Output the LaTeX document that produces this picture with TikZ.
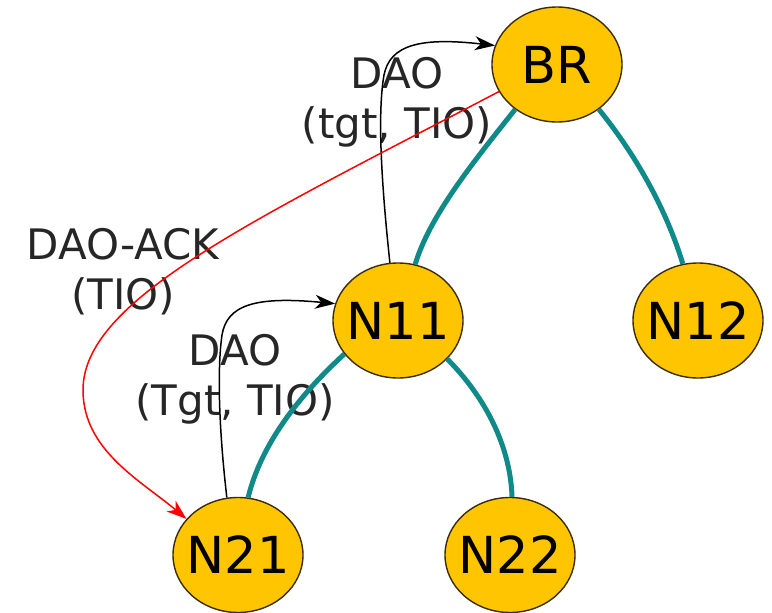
\documentclass[tikz,border=0pt]{standalone}
\usepackage{fontspec}
\setmainfont{DejaVu Sans}
\usetikzlibrary{arrows.meta,shapes.geometric}
\definecolor{nodefill}{RGB}{255,198,0}
\definecolor{treeteal}{RGB}{16,137,137}
\definecolor{rimcol}{RGB}{60,45,10}
\begin{document}
\begin{tikzpicture}[x=1pt,y=-1pt,
  mote/.style={ellipse,draw=rimcol,line width=1.4pt,fill=nodefill,minimum width=130pt,minimum height=115pt,inner sep=0pt},
  motetext/.style={font=\fontsize{51}{60}\selectfont,text=black,inner sep=0pt},
  link/.style={draw=treeteal,line width=5pt},
  dao/.style={draw=black,line width=1.5pt,-{Stealth[length=20pt,width=14pt,inset=6pt]}},
  ack/.style={draw=red,line width=1.5pt,-{Stealth[length=20pt,width=14pt,inset=6pt]}},
  lbl/.style={align=center,font=\fontsize{42}{50}\selectfont,text=black!85,inner sep=0pt}
]
\useasboundingbox (0,0) rectangle (772,613);

\node[mote,label={[motetext]center:BR}] (BR) at (557,64.5) {};
\node[mote,label={[motetext]center:N11}] (N11) at (398,320.5) {};
\node[mote,label={[motetext]center:N12}] (N12) at (698,320.5) {};
\node[mote,label={[motetext]center:N21}] (N21) at (238,555) {};
\node[mote,label={[motetext]center:N22}] (N22) at (510,555) {};

\node[lbl] (l1) at (397,102) {DAO\\(tgt, TIO)};
\node[lbl] (l2) at (123,271.5) {DAO-ACK\\(TIO)};
\node[lbl] (l3) at (235,379) {DAO\\(Tgt, TIO)};

\draw[link] (BR.227) .. controls (475,160) and (430,215) .. (N11.73);
\draw[link] (BR.313) .. controls (640,160) and (668,215) .. (N12.105);
\draw[link] (N11.212) .. controls (305,390) and (262,440) .. (N21.80);
\draw[link] (N11.322) .. controls (480,392) and (510,440) .. (N22.88);

\draw[dao] (N11.98) .. controls (380,170) and (378,110) .. (384,75) .. controls (390,45) and (420,37) .. (BR.163);
\draw[dao] (N21.101) .. controls (219,430) and (217,370) .. (222,335) .. controls (227,305) and (255,296) .. (N11.165);
\draw[ack] (BR.205) .. controls (250,222) and (83,300) .. (83,390) .. controls (83,450) and (140,480) .. (N21.145);
\end{tikzpicture}
\end{document}
